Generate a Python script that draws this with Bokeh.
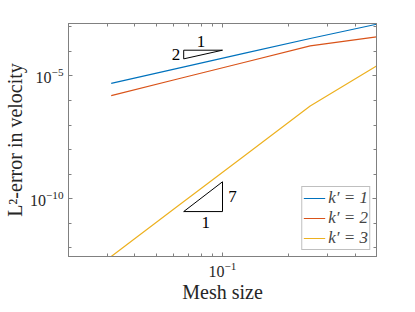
from bokeh.plotting import figure
from bokeh.models import (LogAxis, FixedTicker, Legend, LegendItem, Label,
                          Range1d)
from bokeh.embed import file_html
from bokeh.resources import INLINE

# ---- data ----
mesh_size = [1/32, 1/16, 1/8, 1/4, 1/2]
err_k1 = [5.0e-6, 2.04e-5, 8.3e-5, 3.35e-4, 1.28e-3]
err_k2 = [1.58e-6, 7.5e-6, 3.54e-5, 1.67e-4, 3.90e-4]
err_k3 = [4.44e-13, 4.9e-11, 5.37e-9, 5.98e-7, 2.56e-5]
series_labels = ["k′ = 1", "k′ = 2", "k′ = 3"]

x_major_ticks = [0.1]
x_minor_ticks = [0.02, 0.03, 0.04, 0.05, 0.06, 0.07, 0.08, 0.09, 0.2, 0.3, 0.4, 0.5]
y_major_ticks = [1e-10, 1e-5]
y_minor_ticks = [1e-12, 1e-11, 1e-9, 1e-8, 1e-7, 1e-6, 1e-4, 1e-3]

# slope triangles
tri1_x = [1/15, 0.1, 1/15, 1/15]
tri1_y = [1.12e-4, 1.12e-4, 4.97e-5, 1.12e-4]
tri2_x = [1/15, 0.1, 0.1, 1/15]
tri2_y = [3.0e-11, 3.0e-11, 4.9e-10, 3.0e-11]
tri_labels = ["1", "2", "7", "1"]

colors = ["#0072BD", "#D95319", "#EDB120"]
FONT = "Liberation Serif"
AX = "#808080"
TXT = "#262626"

p = figure(width=415, height=312, x_axis_type="log", y_axis_type="log",
           x_range=Range1d(0.02, 0.5), y_range=Range1d(4.44e-13, 1.37e-3),
           output_backend="svg", toolbar_location=None,
           min_border_left=68, min_border_right=39, min_border_top=23,
           min_border_bottom=56)
p.grid.visible = False
p.outline_line_color = AX

p.xaxis.ticker = FixedTicker(ticks=x_major_ticks, minor_ticks=x_minor_ticks)
p.yaxis.ticker = FixedTicker(ticks=y_major_ticks, minor_ticks=y_minor_ticks)
p.xaxis.axis_label = "Mesh size"
p.yaxis.axis_label = "L²-error in velocity"

for ax in [p.xaxis[0], p.yaxis[0]]:
    ax.major_tick_in = 4
    ax.major_tick_out = 0
    ax.minor_tick_in = 3
    ax.minor_tick_out = 0
    ax.axis_line_color = AX
    ax.major_tick_line_color = AX
    ax.minor_tick_line_color = AX
    ax.major_label_text_font = FONT
    ax.major_label_text_font_size = "16px"
    ax.major_label_text_color = TXT
    ax.axis_label_text_font = FONT
    ax.axis_label_text_font_size = "20px"
    ax.axis_label_text_font_style = "normal"
    ax.axis_label_text_color = TXT
    ax.major_label_standoff = 5
p.xaxis.axis_label_standoff = 1
p.yaxis.axis_label_standoff = 1

for loc, tk in [("above", FixedTicker(ticks=x_major_ticks, minor_ticks=x_minor_ticks)),
                ("right", FixedTicker(ticks=y_major_ticks, minor_ticks=y_minor_ticks))]:
    ax = LogAxis(ticker=tk, major_label_text_alpha=0, major_label_text_font_size="2px",
                 major_label_standoff=0,
                 major_tick_in=4, major_tick_out=0, minor_tick_in=3, minor_tick_out=0,
                 axis_line_color=AX, major_tick_line_color=AX, minor_tick_line_color=AX)
    p.add_layout(ax, loc)

renderers = []
for ys, c in zip([err_k1, err_k2, err_k3], colors):
    r = p.line(mesh_size, ys, line_color=c, line_width=1.2)
    renderers.append(r)

p.line(tri1_x, tri1_y, line_color="black", line_width=1)
p.line(tri2_x, tri2_y, line_color="black", line_width=1)

label_pos = [(0.0798, 2.6e-4), (0.0615, 7.5e-5), (0.111, 1.24e-10), (0.084, 1.05e-11)]
for t, (lx, ly) in zip(tri_labels, label_pos):
    p.add_layout(Label(x=lx, y=ly, text=t, text_font=FONT, text_font_size="17px",
                       text_align="center", text_baseline="middle", text_color="black"))

legend = Legend(items=[LegendItem(label=l, renderers=[r]) for l, r in zip(series_labels, renderers)],
                location="bottom_right", margin=6, padding=1, spacing=0,
                glyph_width=22, glyph_height=18, label_height=18, label_standoff=3,
                label_text_font=FONT, label_text_font_size="17px",
                label_text_font_style="italic",
                border_line_color=AX, border_line_width=1,
                background_fill_color="white", background_fill_alpha=1)
p.add_layout(legend)

open("out.html", "w").write(file_html(p, INLINE))
